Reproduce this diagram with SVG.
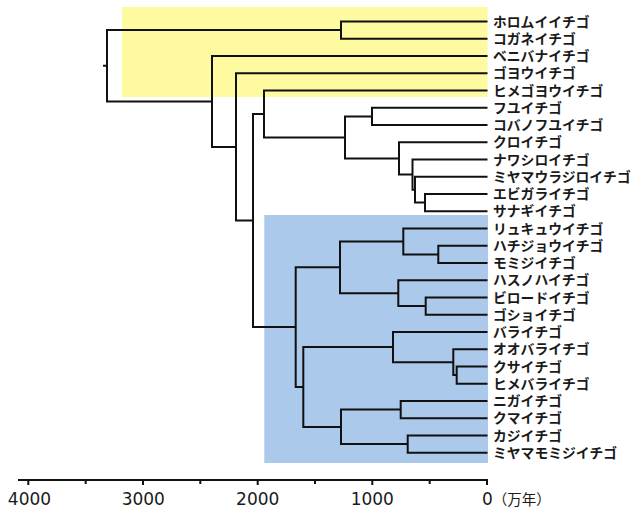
<svg xmlns="http://www.w3.org/2000/svg" width="640" height="512" viewBox="0 0 640 512">
<style>
.br{fill:none;stroke:#111;stroke-width:2;stroke-linejoin:miter;stroke-linecap:butt}
.lb{font-family:"Noto Sans CJK JP","Noto Sans CJK SC",sans-serif;font-size:13.8px;fill:#1a1a1a;font-weight:bold}
.num{font-family:"DejaVu Sans",sans-serif;font-size:17px;fill:#1a1a1a;text-anchor:middle}
.ax{fill:none;stroke:#111;stroke-width:2}
</style>
<rect id="clade-yellow" x="122" y="7" width="365.5" height="90" fill="#fefa9f"/>
<rect id="clade-blue" x="264.3" y="215" width="223.7" height="248" fill="#abc9ea"/>
<g id="connectors">
<path class="br" d="M103 65.8H107M341 30.1H107V101.5H212"/>
<path class="br" d="M487.5 21.5H341V38.75H487.5"/>
<path class="br" d="M487.5 56H212V146.9H236"/>
<path class="br" d="M487.5 73.25H236V220.6H253"/>
<path class="br" d="M264 114H253V327.1H295.7"/>
<path class="br" d="M487.5 90.5H264V137.4H345"/>
<path class="br" d="M372 116.4H345V158.4H399"/>
<path class="br" d="M487.5 107.75H372V125H487.5"/>
<path class="br" d="M487.5 142.25H399V174.6H412.5"/>
<path class="br" d="M487.5 159.5H412.5V189.7H415"/>
<path class="br" d="M487.5 176.75H415V202.6H425"/>
<path class="br" d="M487.5 194H425V211.25H487.5"/>
<path class="br" d="M340 267.3H295.7V387H303.3"/>
<path class="br" d="M403.3 241.4H340V293.2H398.3"/>
<path class="br" d="M487.5 228.5H403.3V254.4H438.3"/>
<path class="br" d="M487.5 245.75H438.3V263H487.5"/>
<path class="br" d="M487.5 280.25H398.3V306.1H425.7"/>
<path class="br" d="M487.5 297.5H425.7V314.75H487.5"/>
<path class="br" d="M393 347.1H303.3V426.9H341"/>
<path class="br" d="M487.5 332H393V362.2H453.3"/>
<path class="br" d="M487.5 349.25H453.3V375.1H456.7"/>
<path class="br" d="M487.5 366.5H456.7V383.75H487.5"/>
<path class="br" d="M400.7 409.6H341V444.1H407.7"/>
<path class="br" d="M487.5 401H400.7V418.25H487.5"/>
<path class="br" d="M487.5 435.5H407.7V452.75H487.5"/>
</g>
<g id="leaf-01"><text class="lb" x="493" y="26.5">ホロムイイチゴ</text></g>
<g id="leaf-02"><text class="lb" x="493" y="43.75">コガネイチゴ</text></g>
<g id="leaf-03"><text class="lb" x="493" y="61">ベニバナイチゴ</text></g>
<g id="leaf-04"><text class="lb" x="493" y="78.25">ゴヨウイチゴ</text></g>
<g id="leaf-05"><text class="lb" x="493" y="95.5">ヒメゴヨウイチゴ</text></g>
<g id="leaf-06"><text class="lb" x="493" y="112.75">フユイチゴ</text></g>
<g id="leaf-07"><text class="lb" x="493" y="130">コバノフユイチゴ</text></g>
<g id="leaf-08"><text class="lb" x="493" y="147.25">クロイチゴ</text></g>
<g id="leaf-09"><text class="lb" x="493" y="164.5">ナワシロイチゴ</text></g>
<g id="leaf-10"><text class="lb" x="493" y="181.75">ミヤマウラジロイチゴ</text></g>
<g id="leaf-11"><text class="lb" x="493" y="199">エビガライチゴ</text></g>
<g id="leaf-12"><text class="lb" x="493" y="216.25">サナギイチゴ</text></g>
<g id="leaf-13"><text class="lb" x="493" y="233.5">リュキュウイチゴ</text></g>
<g id="leaf-14"><text class="lb" x="493" y="250.75">ハチジョウイチゴ</text></g>
<g id="leaf-15"><text class="lb" x="493" y="268">モミジイチゴ</text></g>
<g id="leaf-16"><text class="lb" x="493" y="285.25">ハスノハイチゴ</text></g>
<g id="leaf-17"><text class="lb" x="493" y="302.5">ビロードイチゴ</text></g>
<g id="leaf-18"><text class="lb" x="493" y="319.75">ゴショイチゴ</text></g>
<g id="leaf-19"><text class="lb" x="493" y="337">バライチゴ</text></g>
<g id="leaf-20"><text class="lb" x="493" y="354.25">オオバライチゴ</text></g>
<g id="leaf-21"><text class="lb" x="493" y="371.5">クサイチゴ</text></g>
<g id="leaf-22"><text class="lb" x="493" y="388.75">ヒメバライチゴ</text></g>
<g id="leaf-23"><text class="lb" x="493" y="406">ニガイチゴ</text></g>
<g id="leaf-24"><text class="lb" x="493" y="423.25">クマイチゴ</text></g>
<g id="leaf-25"><text class="lb" x="493" y="440.5">カジイチゴ</text></g>
<g id="leaf-26"><text class="lb" x="493" y="457.75">ミヤマモミジイチゴ</text></g>
<g id="axis">
<path class="ax" d="M18 480H488M28.3 480V485M85.7 480V484M143 480V485M200.3 480V484M257.7 480V485M315 480V484M372.3 480V485M429.7 480V484M487 480V485"/>
<text class="num" x="29.5" y="505">4000</text>
<text class="num" x="143.3" y="505">3000</text>
<text class="num" x="257.7" y="505">2000</text>
<text class="num" x="372.3" y="505">1000</text>
<text x="482" y="505" font-family="DejaVu Sans, sans-serif" font-size="17" fill="#1a1a1a">0<tspan font-family="Noto Sans CJK JP, sans-serif" font-size="14.5">（万年）</tspan></text>
</g>
</svg>
